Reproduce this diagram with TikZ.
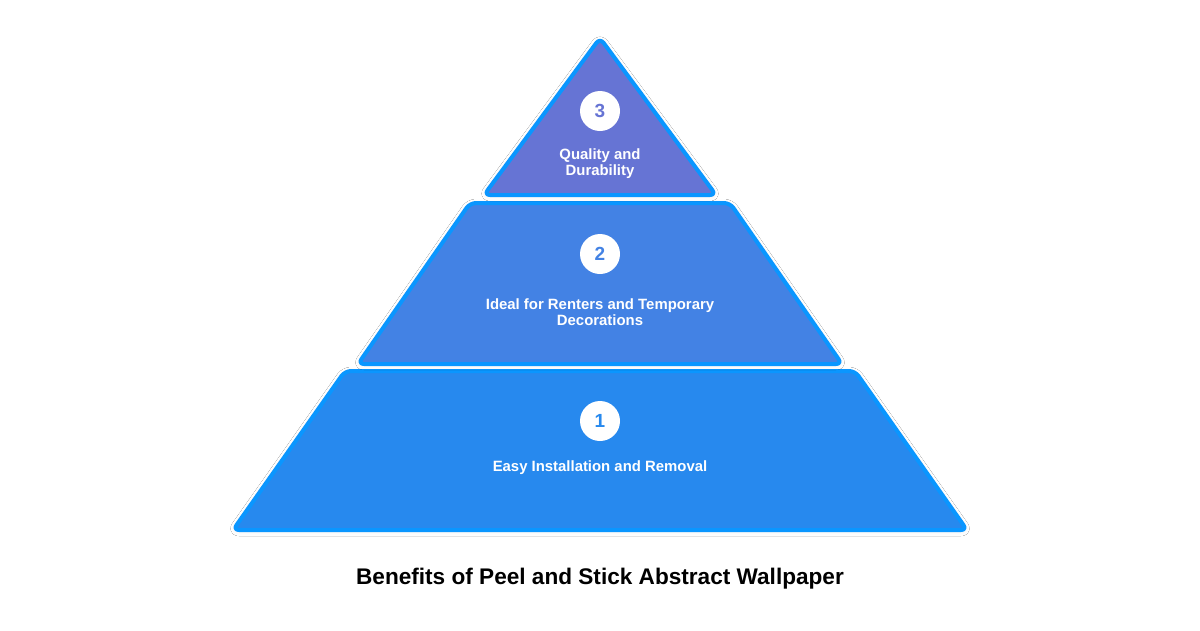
\documentclass[tikz,border=0pt]{standalone}
\usepackage{fontspec}
\setmainfont{Liberation Sans}
\usepackage{xcolor}
\definecolor{tierthree}{HTML}{6674D4}
\definecolor{tiertwo}{HTML}{4382E4}
\definecolor{tierone}{HTML}{2789EE}
\definecolor{tieredge}{HTML}{0A96FF}
\usetikzlibrary{positioning,shadows.blur}

\begin{document}
\begin{tikzpicture}[
  x=1pt, y=-1pt,
  tier/.style={draw=tieredge, line width=4pt, rounded corners=6pt, line join=round,
               blur shadow={shadow xshift=0pt, shadow yshift=-1pt, shadow blur radius=5pt,
                            shadow blur extra rounding=4pt, shadow opacity=8}},
  badge/.style={circle, fill=white, minimum size=40pt, inner sep=0pt,
                font=\fontsize{19}{19}\selectfont\bfseries},
  label/.style={text=white, align=center, font=\fontsize{14.9}{16}\selectfont\bfseries},
  title/.style={font=\fontsize{22.6}{26}\selectfont\bfseries}
]
  \useasboundingbox[fill=white] (0,0) rectangle (1200,630);

  % Tiers, bottom to top
  \path[tier, fill=tierone] (345,371) -- (855,371) -- (967,530) -- (233,530) -- cycle;
  \path[tier, fill=tiertwo] (470,203) -- (730,203) -- (842,364) -- (358,364) -- cycle;
  \path[tier, fill=tierthree] (600,38) -- (716,195) -- (484,195) -- cycle;

  % Badges
  \node[badge, text=tierthree] (n3) at (600,111) {3};
  \node[badge, text=tiertwo] (n2) at (600,254) {2};
  \node[badge, text=tierone] (n1) at (600,421) {1};

  % Labels
  \node[label] (l3) at (600,164) {Quality and\\Durability};
  \node[label] (l2) at (600,312) {Ideal for Renters and Temporary\\Decorations};
  \node[label] (l1) at (600,468) {Easy Installation and Removal};

  \node[title] (caption) at (600,579) {Benefits of Peel and Stick Abstract Wallpaper};
\end{tikzpicture}
\end{document}
